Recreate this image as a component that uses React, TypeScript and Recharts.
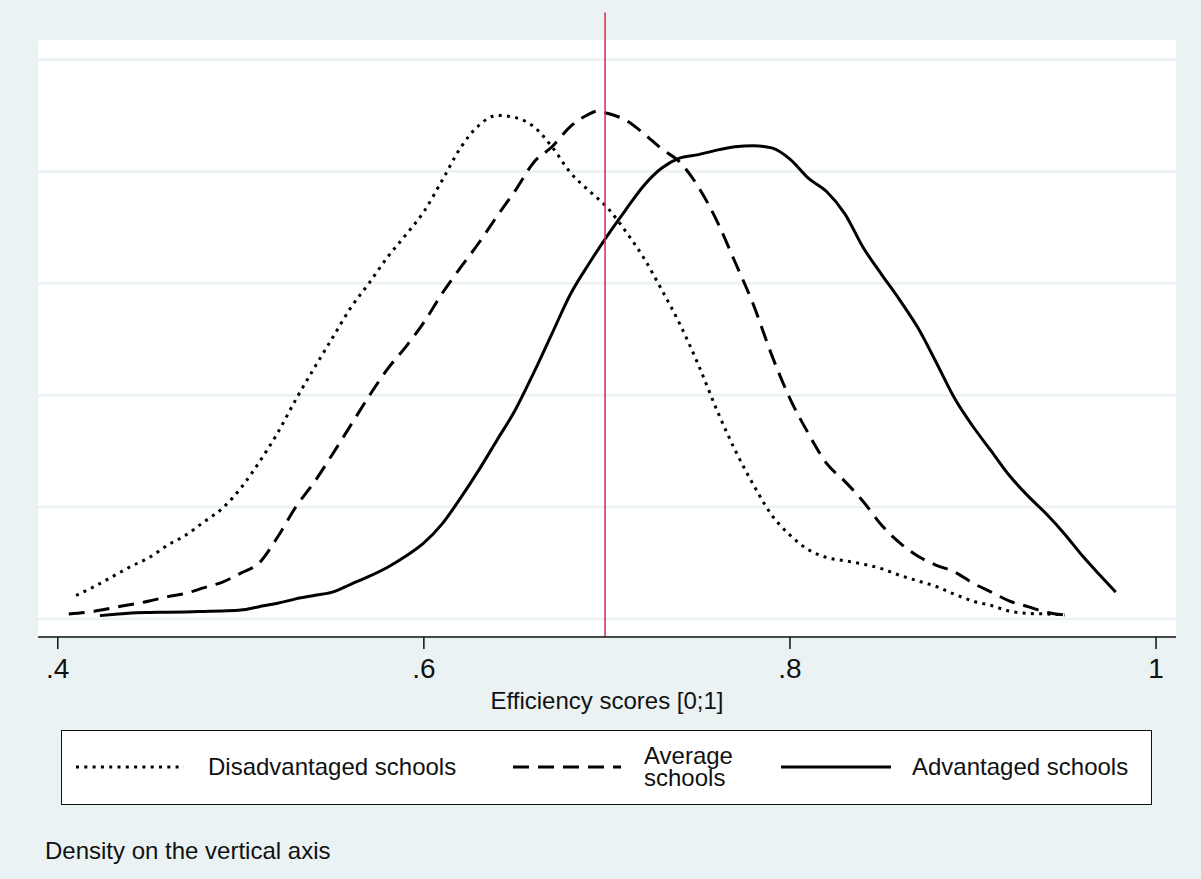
import { CartesianGrid, Label, Line, LineChart, ReferenceLine, XAxis, YAxis } from "recharts";

const FONT = '"Liberation Sans", Arial, Helvetica, sans-serif';
const BG = "#EAF2F3";
const MEAN_LINE = "#D8264F";

// Kernel density estimates of efficiency scores, one x/y pair of arrays per group
const disadvX = [
  0.41, 0.42, 0.43, 0.44, 0.45, 0.46, 0.47, 0.48, 0.49, 0.5, 0.51, 0.52, 0.53, 0.54, 0.55, 0.56,
  0.57, 0.58, 0.59, 0.6, 0.61, 0.62, 0.63, 0.64, 0.65, 0.66, 0.67, 0.68, 0.69, 0.7, 0.71, 0.72,
  0.73, 0.74, 0.75, 0.76, 0.77, 0.78, 0.79, 0.8, 0.81, 0.82, 0.83, 0.84, 0.85, 0.86, 0.87, 0.88,
  0.89, 0.9, 0.91, 0.92, 0.93, 0.94, 0.95,
];
const disadvY = [
  0.21, 0.29, 0.38, 0.47, 0.55, 0.66, 0.75, 0.87, 0.99, 1.17, 1.4, 1.66, 1.96, 2.24, 2.51, 2.78,
  3.0, 3.23, 3.43, 3.64, 3.92, 4.21, 4.41, 4.5, 4.48, 4.4, 4.22, 3.99, 3.83, 3.68, 3.47, 3.23,
  2.94, 2.63, 2.27, 1.87, 1.51, 1.2, 0.93, 0.75, 0.62, 0.55, 0.52, 0.49, 0.45, 0.39, 0.34, 0.29,
  0.22, 0.16, 0.12, 0.07, 0.05, 0.045, 0.036,
];

const averageX = [
  0.406, 0.42, 0.43, 0.44, 0.45, 0.46, 0.47, 0.48, 0.49, 0.5, 0.51, 0.52, 0.53, 0.54, 0.55, 0.56,
  0.57, 0.58, 0.59, 0.6, 0.61, 0.62, 0.63, 0.64, 0.65, 0.66, 0.67, 0.68, 0.69, 0.695, 0.7, 0.71,
  0.72, 0.73, 0.74, 0.75, 0.76, 0.77, 0.78, 0.79, 0.8, 0.81, 0.82, 0.83, 0.84, 0.85, 0.86, 0.87,
  0.88, 0.89, 0.9, 0.91, 0.92, 0.93, 0.94, 0.95,
];
const averageY = [
  0.045, 0.07, 0.1, 0.13, 0.16, 0.2, 0.23, 0.28, 0.33, 0.41, 0.5, 0.73, 1.0, 1.22, 1.47, 1.73,
  1.99, 2.23, 2.43, 2.65, 2.91, 3.14, 3.36, 3.6, 3.83, 4.08, 4.22, 4.4, 4.51, 4.54, 4.52, 4.46,
  4.34, 4.2, 4.08, 3.86, 3.56, 3.19, 2.81, 2.36, 1.97, 1.66, 1.39, 1.23, 1.05, 0.84, 0.68, 0.56,
  0.48, 0.42, 0.32, 0.24, 0.16, 0.11, 0.06, 0.036,
];

const advX = [
  0.423, 0.43, 0.44, 0.45, 0.46, 0.47, 0.48, 0.49, 0.5, 0.51, 0.52, 0.53, 0.54, 0.55, 0.56, 0.57,
  0.58, 0.59, 0.6, 0.61, 0.62, 0.63, 0.64, 0.65, 0.66, 0.67, 0.68, 0.69, 0.7, 0.71, 0.72, 0.73,
  0.74, 0.75, 0.76, 0.77, 0.78, 0.79, 0.8, 0.81, 0.82, 0.83, 0.84, 0.85, 0.86, 0.87, 0.88, 0.89,
  0.9, 0.91, 0.92, 0.93, 0.94, 0.95, 0.96, 0.97, 0.978,
];
const advY = [
  0.03, 0.04, 0.054, 0.058, 0.06, 0.063, 0.067, 0.072, 0.08, 0.11, 0.14, 0.18, 0.21, 0.24, 0.31,
  0.38, 0.46, 0.56, 0.68, 0.85, 1.08, 1.33, 1.6, 1.87, 2.2, 2.55, 2.9, 3.17, 3.42, 3.65, 3.87,
  4.03, 4.12, 4.15, 4.19, 4.22, 4.23, 4.21, 4.11, 3.94, 3.82, 3.62, 3.32, 3.08, 2.85, 2.6, 2.29,
  1.97, 1.72, 1.5, 1.28, 1.1, 0.94, 0.76, 0.56, 0.38, 0.24,
];

const seriesNames = ["Disadvantaged schools", "Average\nschools", "Advantaged schools"];
const meanScore = 0.699;

const xTicks = [0.4, 0.6, 0.8, 1];
const xTickLabels = [".4", ".6", ".8", "1"];
const yTicks = [0, 1, 2, 3, 4, 5];

const xTitle = "Efficiency scores [0;1]";
const note = "Density on the vertical axis";

const toPoints = (xs: number[], ys: number[]) => xs.map((x, i) => ({ x, y: ys[i] }));

const lineStyles = [
  { dash: "3 5.3" },
  { dash: "16 9" },
  { dash: undefined as string | undefined },
];

const series = [
  toPoints(disadvX, disadvY),
  toPoints(averageX, averageY),
  toPoints(advX, advY),
];

function LegendBox() {
  const samples = [
    { x1: 14, x2: 122, textLeft: 146 },
    { x1: 451, x2: 559, textLeft: 582 },
    { x1: 719, x2: 829, textLeft: 850 },
  ];
  return (
    <div
      style={{
        position: "absolute",
        left: 61,
        top: 730,
        width: 1091,
        height: 75,
        boxSizing: "border-box",
        border: "1.5px solid #111",
        background: "#fff",
      }}
    >
      <svg width={1088} height={72} style={{ position: "absolute", left: 0, top: 0 }}>
        {samples.map((s, i) => (
          <line
            key={i}
            x1={s.x1}
            x2={s.x2}
            y1={36}
            y2={36}
            stroke="#000"
            strokeWidth={3}
            strokeDasharray={lineStyles[i].dash}
          />
        ))}
      </svg>
      {samples.map((s, i) => (
        <div
          key={i}
          style={{
            position: "absolute",
            left: s.textLeft,
            top: 0,
            height: 72,
            display: "flex",
            alignItems: "center",
            fontSize: 24,
            lineHeight: "22px",
            whiteSpace: "pre",
            color: "#111",
          }}
        >
          {seriesNames[i]}
        </div>
      ))}
    </div>
  );
}

export default function App() {
  return (
    <div
      style={{
        position: "absolute",
        left: 0,
        top: 0,
        width: 1201,
        height: 879,
        background: BG,
        fontFamily: FONT,
        overflow: "hidden",
      }}
    >
      <LineChart width={1201} height={720} margin={{ top: 39, right: 25, left: 38, bottom: 3 }}>
        <CartesianGrid
          fill="#fff"
          vertical={false}
          stroke={BG}
          strokeWidth={2.5}
        />
        <XAxis
          type="number"
          dataKey="x"
          domain={[0.3892, 1.0109]}
          allowDataOverflow
          ticks={xTicks}
          interval={0}
          tickFormatter={(v: number) => xTickLabels[xTicks.indexOf(v)] ?? String(v)}
          tick={{ fontSize: 28, fill: "#111", fontFamily: FONT }}
          axisLine={{ stroke: "#111", strokeWidth: 1.5 }}
          tickLine={{ stroke: "#111", strokeWidth: 1.5 }}
          tickSize={12}
          tickMargin={9}
          height={80}
        >
          <Label
            value={xTitle}
            position="insideBottom"
            offset={8}
            style={{ fontSize: 24, fill: "#111", fontFamily: FONT }}
          />
        </XAxis>
        <YAxis
          type="number"
          dataKey="y"
          hide
          domain={[-0.161, 5.183]}
          ticks={yTicks}
          allowDataOverflow
        />
        {series.map((pts, i) => (
          <Line
            key={i}
            data={pts}
            dataKey="y"
            type="monotone"
            stroke="#000"
            strokeWidth={3}
            strokeDasharray={lineStyles[i].dash}
            dot={false}
            activeDot={false}
            isAnimationActive={false}
          />
        ))}
        <ReferenceLine
          segment={[
            { x: meanScore, y: -0.161 },
            { x: meanScore, y: 5.42 },
          ]}
          ifOverflow="visible"
          stroke={MEAN_LINE}
          strokeWidth={1.5}
        />
      </LineChart>
      <LegendBox />
      <div
        style={{
          position: "absolute",
          left: 45,
          top: 839,
          fontSize: 24,
          lineHeight: "24px",
          color: "#111",
        }}
      >
        {note}
      </div>
    </div>
  );
}
